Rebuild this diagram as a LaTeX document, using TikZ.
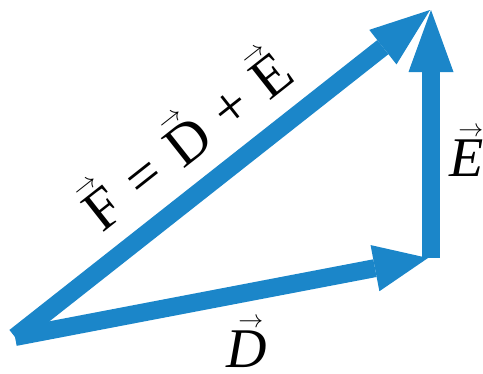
\documentclass[tikz,border=0pt]{standalone}
\usepackage{fontspec}
\setmainfont{Liberation Serif}
\usetikzlibrary{arrows.meta}
\definecolor{vblue}{RGB}{27,134,201}
\tikzset{
  vecline/.style={draw=vblue, line width=18pt, line cap=butt},
  lbl/.style={inner sep=0pt, text=black},
}
\newcommand{\arrowmark}{\fontsize{24}{24}\selectfont$\rightarrow$}
\newcommand{\ar}[2][0em]{\begingroup\setbox0=\hbox{#2}\hbox{\rlap{\hbox to \wd0{\hskip#1\hss\raisebox{\dimexpr\ht0+0.06em\relax}{\arrowmark}\hss}}\box0}\endgroup}
\begin{document}
\begin{tikzpicture}[x=1pt,y=-1pt]
\useasboundingbox (0,0) rectangle (483,373);
\coordinate (O) at (15,337);
\coordinate (Dtip) at (428,258);
\coordinate (Ebase) at (431,258);
\coordinate (Etip) at (431,10);
\coordinate (Ftip) at (430,10);
\draw[vecline, -{Triangle[length=60pt,width=44pt,line width=0pt]}] (O) -- (Ftip);
\draw[vecline, -{Triangle[length=54pt,width=47pt,line width=0pt]}] (O) -- (Dtip);
\draw[vecline, -{Triangle[length=62pt,width=45pt,line width=0pt]}] (Ebase) -- (Etip);
\node[lbl, rotate=38.3, font=\fontsize{58}{62}\selectfont] (Flab) at (184,137) {\ar{F}\hspace{0.33em}=\hspace{0.33em}\ar{D}\hspace{0.3em}+\hspace{0.3em}\ar{E}};
\node[lbl, font=\fontsize{56}{60}\selectfont] (Elab) at (467,152) {\ar[0.14em]{\itshape E}};
\node[lbl, font=\fontsize{56}{60}\selectfont] (Dlab) at (247,343) {\ar[0.14em]{\itshape D}};
\end{tikzpicture}
\end{document}
